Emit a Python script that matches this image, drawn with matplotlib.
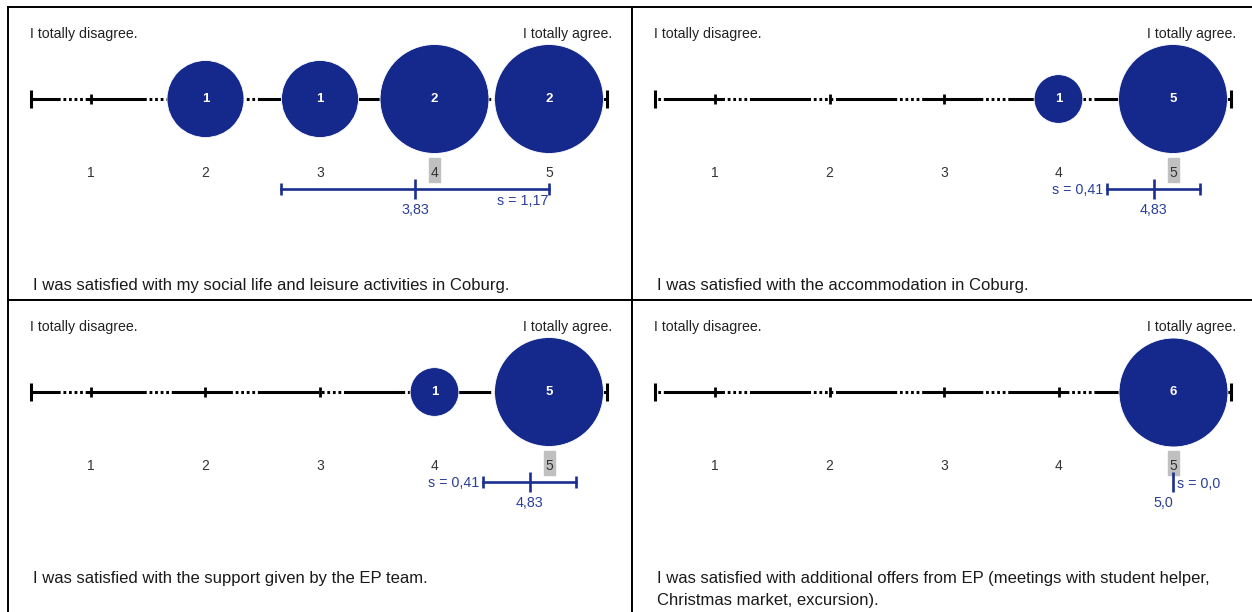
import matplotlib
matplotlib.use("Agg")
import matplotlib.pyplot as plt
import matplotlib.transforms as mtransforms
from matplotlib.patches import Rectangle

plt.rcParams["font.family"] = ["Liberation Sans", "DejaVu Sans"]
plt.rcParams["lines.scale_dashes"] = False

# ---- data -------------------------------------------------------------
SCALE = [1, 2, 3, 4, 5]

STATEMENTS = [
    "I was satisfied with my social life and leisure activities in Coburg.",
    "I was satisfied with the accommodation in Coburg.",
    "I was satisfied with the support given by the EP team.",
    "I was satisfied with additional offers from EP (meetings with student helper,\nChristmas market, excursion).",
]
COUNTS_SOCIAL = [0, 1, 1, 2, 2]
COUNTS_ACCOMMODATION = [0, 0, 0, 1, 5]
COUNTS_SUPPORT = [0, 0, 0, 1, 5]
COUNTS_OFFERS = [0, 0, 0, 0, 6]
MEDIANS = [4, 5, 5, 5]
MEANS = [3.83, 4.83, 4.83, 5.0]
STDS = [1.17, 0.41, 0.41, 0.0]
STD_LABEL_SIDE = ["below", "left", "left", "right"]

COUNTS = [COUNTS_SOCIAL, COUNTS_ACCOMMODATION, COUNTS_SUPPORT, COUNTS_OFFERS]

# ---- layout (pixels) --------------------------------------------------
FIG_W, FIG_H = 1252, 612
PANEL_W = 624
ORIGINS = [(8, 7), (632, 7), (8, 300), (632, 300)]
STEP = 114.5          # px between scale points
FIRST = 83            # px from panel left to scale point 1
DASH_OFFSET = [23, 56, 23, 56]

NAVY = "#15288b"
BLUE = "#1b2f90"
BLUE_TXT = "#2b3e98"


def fmt(v, dec):
    return f"{v:.{dec}f}".replace(".", ",")


fig = plt.figure(figsize=(FIG_W / 100, FIG_H / 100), dpi=100)

for i, (x0, y0) in enumerate(ORIGINS):
    h = 293 if y0 < 100 else 320
    ax = fig.add_axes([x0 / FIG_W, 1 - (y0 + h) / FIG_H, PANEL_W / FIG_W, h / FIG_H])
    ax.set_xlim(1 - FIRST / STEP, 1 + (PANEL_W - FIRST) / STEP)
    ax.set_ylim(h, 0)
    ax.set_xticks([])
    ax.set_yticks([])
    for sp in ax.spines.values():
        sp.set_linewidth(1.4)
    blend = mtransforms.blended_transform_factory(ax.transAxes, ax.transData)

    y_line = 92
    lo, hi = SCALE[0] - 0.52, SCALE[-1] + 0.51
    ax.plot([lo, hi], [y_line, y_line], color="black", lw=2.2,
            linestyle=(DASH_OFFSET[i], (44, 2, 2, 2, 2, 2, 2, 2, 2, 2)),
            dash_capstyle="butt", zorder=2)
    ax.plot([lo, hi], [y_line, y_line], ls="none", marker="|", ms=13, mew=2.2,
            color="black", zorder=2)
    ax.plot(SCALE, [y_line] * len(SCALE), ls="none", marker="|", ms=7.5, mew=2,
            color="black", zorder=2)

    counts = COUNTS[i]
    cmax = max(counts)
    xs = [v for v, c in zip(SCALE, counts) if c > 0]
    cs = [c for c in counts if c > 0]
    ax.scatter(xs, [y_line] * len(xs), s=[6150 * c / cmax for c in cs],
               color=NAVY, edgecolors="white", linewidths=0.6, zorder=3)
    for v, c in zip(xs, cs):
        ax.text(v, y_line, str(c), color="white", fontweight="bold", fontsize=9.5,
                ha="center", va="center", zorder=4)

    ax.text(22 / PANEL_W, 27, "I totally disagree.", transform=blend,
            ha="left", va="center", fontsize=10.2, color="#222222")
    ax.text(604 / PANEL_W, 27, "I totally agree.", transform=blend,
            ha="right", va="center", fontsize=10.2, color="#222222")

    # scale labels with median highlight
    for v in SCALE:
        ax.text(v, 166, str(v), ha="center", va="center", fontsize=10,
                color="#333333", zorder=3)
    ax.add_patch(Rectangle((MEDIANS[i] - 5.5 / STEP, 151), 11 / STEP, 24,
                           color="#c0c0c0", zorder=1))

    # mean +/- standard deviation
    m, s = MEANS[i], STDS[i]
    dec = 1 if s == 0 else 2
    y_bar = 182
    if s > 0:
        ax.plot([m - s, m + s], [y_bar, y_bar], color=BLUE, lw=1.9, zorder=2)
        ax.plot([m - s, m + s], [y_bar, y_bar], ls="none", marker="|", ms=8.6,
                mew=1.9, color=BLUE, zorder=2)
    ax.plot([m], [y_bar], ls="none", marker="|", ms=14, mew=1.9, color=BLUE, zorder=2)

    s_txt = "s = " + fmt(s, dec)
    side = STD_LABEL_SIDE[i]
    if side == "below":
        ax.text(m + s, 194, s_txt, ha="right", va="center", fontsize=10.3, color=BLUE_TXT)
        ax.text(m, 203, fmt(m, dec), ha="center", va="center", fontsize=10.3, color=BLUE_TXT)
    elif side == "left":
        ax.text(m - s - 3 / STEP, y_bar + 1, s_txt, ha="right", va="center",
                fontsize=10.3, color=BLUE_TXT)
        ax.text(m, 203, fmt(m, dec), ha="center", va="center", fontsize=10.3, color=BLUE_TXT)
    else:
        ax.text(m + 4 / STEP, y_bar + 2, s_txt, ha="left", va="center",
                fontsize=10.3, color=BLUE_TXT)
        ax.text(m, 203, fmt(m, dec), ha="right", va="center", fontsize=10.3, color=BLUE_TXT)

    ax.text(25 / PANEL_W, 271, STATEMENTS[i], transform=blend, ha="left", va="top",
            fontsize=12, color="#1a1a1a", linespacing=1.6)

fig.savefig("out.png", dpi=100)
